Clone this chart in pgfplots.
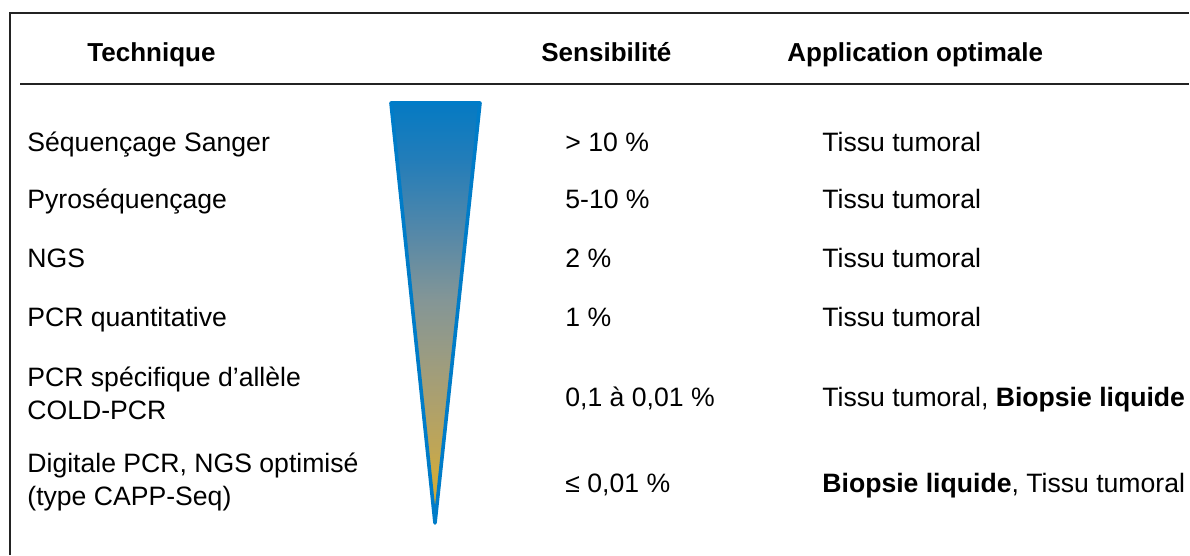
\documentclass[border=0pt]{standalone}
\usepackage{pgfplots}
\pgfplotsset{compat=1.18}
\usepackage{fontspec}
\setmainfont{Liberation Sans}
\definecolor{cA}{RGB}{210,172,50}
\definecolor{cB}{RGB}{204,170,66}
\definecolor{cC}{RGB}{192,166,85}
\definecolor{cD}{RGB}{172,160,110}
\definecolor{cE}{RGB}{152,155,132}
\definecolor{cF}{RGB}{132,150,150}
\definecolor{cG}{RGB}{85,136,168}
\definecolor{cH}{RGB}{35,125,185}
\definecolor{cI}{RGB}{5,122,195}
\definecolor{triedge}{RGB}{0,124,200}
\definecolor{frame}{RGB}{35,35,35}
\pgfdeclareverticalshading{wedge}{100bp}{%
  color(0bp)=(cA); color(25bp)=(cA); color(31.2bp)=(cB); color(33.6bp)=(cC);
  color(39.6bp)=(cD); color(45.5bp)=(cE); color(51.5bp)=(cF); color(59.5bp)=(cG);
  color(68.2bp)=(cH); color(75bp)=(cI); color(100bp)=(cI)}
\begin{document}
\begin{tikzpicture}
\useasboundingbox (0,0) rectangle (595pt,278pt);
\begin{axis}[
  at={(0,0)}, anchor=south west,
  width=595pt, height=278pt, scale only axis,
  xmin=0, xmax=1190, ymin=0, ymax=556, y dir=reverse,
  hide axis, clip=false,
]
% frame and separator
\addplot[frame, line width=1.3pt, mark=none] coordinates {(10,555) (10,13) (1189,13)};
\addplot[frame, line width=1.3pt, mark=none] coordinates {(20,84) (1189,84)};
% sensitivity wedge
\addplot[draw=triedge, line width=1.8pt, line join=round, mark=none, shading=wedge]
  coordinates {(391,103) (480,103) (435,523)} -- cycle;

\tikzset{hdr/.style={anchor=base west, inner sep=0pt, font=\fontsize{13}{15}\selectfont\bfseries},
         txt/.style={anchor=base west, inner sep=0pt, font=\fontsize{13.3}{15}\selectfont}}
% headers
\node[hdr] at (axis cs:87,62) {Technique};
\node[hdr] at (axis cs:541,62) {Sensibilité};
\node[hdr] at (axis cs:787,62) {Application optimale};
% rows
\node[txt] at (axis cs:27,152) {Séquençage Sanger};
\node[txt] at (axis cs:565,152) {> 10 \%};
\node[txt] at (axis cs:822,152) {Tissu tumoral};

\node[txt] at (axis cs:27,209) {Pyroséquençage};
\node[txt] at (axis cs:565,209) {5-10 \%};
\node[txt] at (axis cs:822,209) {Tissu tumoral};

\node[txt] at (axis cs:27,268) {NGS};
\node[txt] at (axis cs:565,268) {2 \%};
\node[txt] at (axis cs:822,268) {Tissu tumoral};

\node[txt] at (axis cs:27,326) {PCR quantitative};
\node[txt] at (axis cs:565,326) {1 \%};
\node[txt] at (axis cs:822,326) {Tissu tumoral};

\node[txt] at (axis cs:27,386) {PCR spécifique d’allèle};
\node[txt] at (axis cs:27,419) {COLD-PCR};
\node[txt] at (axis cs:565,406) {0,1 à 0,01 \%};
\node[txt] at (axis cs:822,406) {Tissu tumoral, \textbf{Biopsie liquide}};

\node[txt] at (axis cs:27,472) {Digitale PCR, NGS optimisé};
\node[txt] at (axis cs:27,505) {(type CAPP-Seq)};
\node[txt] at (axis cs:565,492) {≤ 0,01 \%};
\node[txt] at (axis cs:822,492) {\textbf{Biopsie liquide}, Tissu tumoral};
\end{axis}
\end{tikzpicture}
\end{document}
